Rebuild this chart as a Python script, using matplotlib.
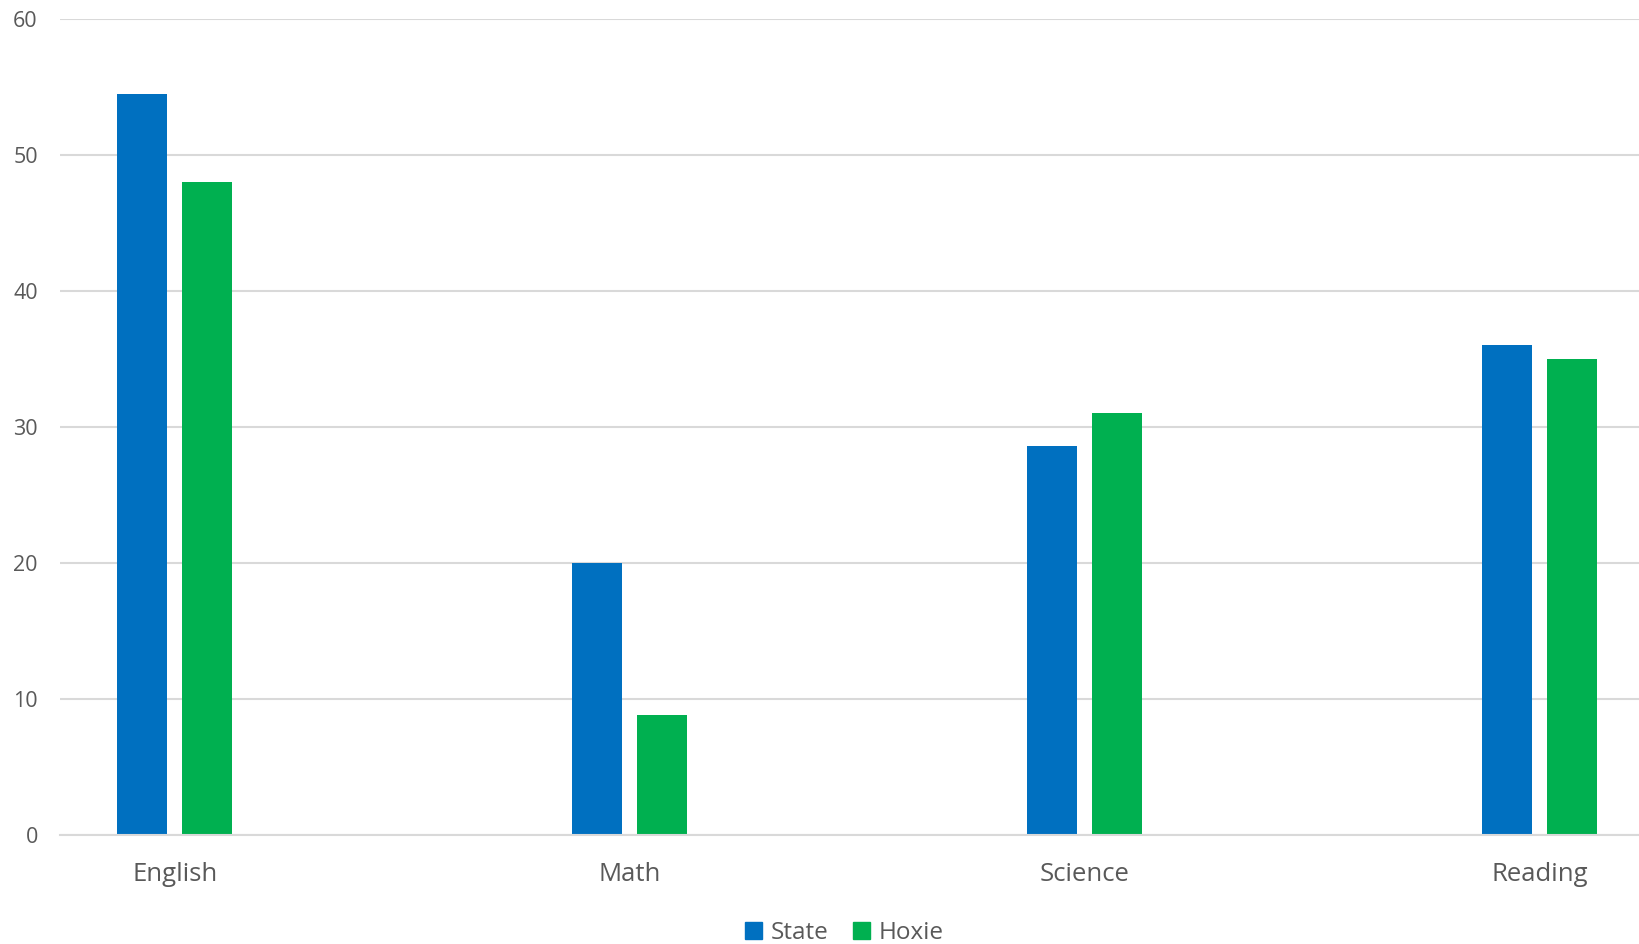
import numpy as np
import matplotlib
matplotlib.use("Agg")
import matplotlib.pyplot as plt
from matplotlib.patches import Patch

# Data
subjects = ["English", "Math", "Science", "Reading"]
state = [54.5, 20.0, 28.6, 36.0]
hoxie = [48.0, 8.8, 31.0, 35.0]
y_ticks = [0, 10, 20, 30, 40, 50, 60]

blue = "#0070c0"
green = "#00b050"
grid_col = "#d9d9d9"
text_col = "#595959"

plt.rcParams["font.family"] = ["Open Sans", "DejaVu Sans"]

fig = plt.figure(figsize=(16.39, 9.44), dpi=100)
ax = fig.add_axes([60 / 1639, 1 - 834.7 / 944, 1 - 60 / 1639, (834.7 - 18.7) / 944])

x = np.arange(len(subjects))
w = 0.110
off = 0.0716
ax.bar(x - off, state, width=w, color=blue, zorder=3, label="State")
ax.bar(x + off, hoxie, width=w, color=green, zorder=3, label="Hoxie")

ax.set_ylim(0, 60)
ax.set_xlim(-0.252, 3.218)
ax.set_yticks(y_ticks)
ax.set_xticks(x)
ax.set_xticklabels(subjects)

ax.yaxis.grid(True, color=grid_col, linewidth=1.5, zorder=0)
for s in ["top", "right", "left"]:
    ax.spines[s].set_visible(False)
ax.spines["bottom"].set_color(grid_col)
ax.spines["bottom"].set_linewidth(1.5)
ax.spines["bottom"].set_zorder(4)

ax.tick_params(axis="y", length=0, pad=16, labelsize=15.5, labelcolor=text_col)
ax.tick_params(axis="x", length=0, pad=19.5, labelsize=18.5, labelcolor=text_col)

handles = [Patch(color=blue, label="State"), Patch(color=green, label="Hoxie")]
fig.legend(handles=handles, loc="center", bbox_to_anchor=(0.515, 0.0115), ncol=2,
           frameon=False, fontsize=17.5, handlelength=0.7, handleheight=0.7,
           handletextpad=0.35, columnspacing=1.0, labelcolor=text_col)

fig.savefig("out.png", dpi=100)
